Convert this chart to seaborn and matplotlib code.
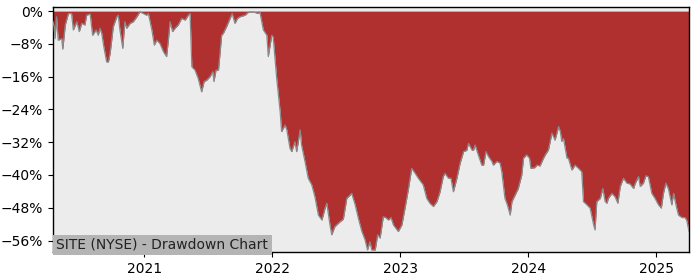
import matplotlib
matplotlib.use("Agg")
import matplotlib.pyplot as plt
import matplotlib.dates as mdates
import matplotlib.ticker as mticker
import pandas as pd
import seaborn as sns

title = "SITE (NYSE) - Drawdown Chart"

dates = [
    "2020-04-16", "2020-04-19", "2020-04-22", "2020-04-26", "2020-05-01", "2020-05-11", "2020-05-14",
    "2020-05-21", "2020-05-30", "2020-06-08", "2020-06-13", "2020-06-23", "2020-06-30", "2020-07-07",
    "2020-07-16", "2020-07-21", "2020-07-31", "2020-08-07", "2020-08-17", "2020-08-23", "2020-08-28",
    "2020-09-02", "2020-09-08", "2020-09-16", "2020-09-21", "2020-09-26", "2020-10-05", "2020-10-15",
    "2020-10-19", "2020-10-24", "2020-11-01", "2020-11-07", "2020-11-12", "2020-11-22", "2020-12-01",
    "2020-12-11", "2020-12-20", "2020-12-30",
    "2021-01-08", "2021-01-13", "2021-01-23", "2021-01-30", "2021-02-06", "2021-02-15", "2021-02-25",
    "2021-03-06", "2021-03-11", "2021-03-16", "2021-03-23", "2021-03-30", "2021-04-08", "2021-04-18",
    "2021-04-28", "2021-05-07", "2021-05-12", "2021-05-17", "2021-05-26", "2021-06-04", "2021-06-14",
    "2021-06-21", "2021-06-28", "2021-07-08", "2021-07-16", "2021-07-19", "2021-07-25", "2021-08-01",
    "2021-08-05", "2021-08-10", "2021-08-15", "2021-08-24", "2021-09-03", "2021-09-09", "2021-09-17",
    "2021-09-24", "2021-10-01", "2021-10-16", "2021-10-25", "2021-11-08", "2021-11-23", "2021-11-27",
    "2021-12-07", "2021-12-17", "2021-12-21", "2021-12-31",
    "2022-01-04", "2022-01-14", "2022-01-24", "2022-01-28", "2022-02-07", "2022-02-12", "2022-02-21",
    "2022-02-26", "2022-03-07", "2022-03-12", "2022-03-22", "2022-03-26", "2022-04-05", "2022-04-14",
    "2022-04-24", "2022-05-03", "2022-05-13", "2022-05-23", "2022-06-01", "2022-06-06", "2022-06-15",
    "2022-06-20", "2022-06-29", "2022-07-14", "2022-07-23", "2022-08-02", "2022-08-16", "2022-08-26",
    "2022-09-04", "2022-09-14", "2022-09-23", "2022-09-30", "2022-10-07", "2022-10-12", "2022-10-22",
    "2022-10-29", "2022-11-05", "2022-11-14", "2022-11-21", "2022-11-29", "2022-12-06", "2022-12-13",
    "2022-12-27",
    "2023-01-06", "2023-01-15", "2023-01-25", "2023-02-03", "2023-02-13", "2023-02-22", "2023-03-08",
    "2023-03-18", "2023-03-27", "2023-04-06", "2023-04-16", "2023-04-25", "2023-05-04", "2023-05-09",
    "2023-05-19", "2023-05-26", "2023-06-02", "2023-06-12", "2023-06-21", "2023-07-01", "2023-07-10",
    "2023-07-15", "2023-07-25", "2023-07-29", "2023-08-03", "2023-08-12", "2023-08-22", "2023-08-27",
    "2023-09-03", "2023-09-10", "2023-09-20", "2023-09-24", "2023-10-04", "2023-10-13", "2023-10-18",
    "2023-10-27", "2023-11-03", "2023-11-11", "2023-11-16", "2023-11-25", "2023-12-04", "2023-12-14",
    "2023-12-19", "2023-12-28",
    "2024-01-05", "2024-01-09", "2024-01-21", "2024-01-26", "2024-02-04", "2024-02-14", "2024-02-19",
    "2024-02-28", "2024-03-09", "2024-03-18", "2024-03-28", "2024-04-02", "2024-04-06", "2024-04-11",
    "2024-04-21", "2024-04-25", "2024-05-05", "2024-05-14", "2024-05-24", "2024-06-02", "2024-06-07",
    "2024-06-17", "2024-06-26", "2024-07-06", "2024-07-10", "2024-07-15", "2024-07-25", "2024-08-01",
    "2024-08-08", "2024-08-13", "2024-08-17", "2024-08-27", "2024-09-05", "2024-09-13", "2024-09-20",
    "2024-09-29", "2024-10-09", "2024-10-18", "2024-10-28", "2024-11-01", "2024-11-11", "2024-11-16",
    "2024-11-25", "2024-12-02", "2024-12-09", "2024-12-19", "2024-12-28",
    "2025-01-07", "2025-01-15", "2025-01-21", "2025-01-28", "2025-02-04", "2025-02-14", "2025-02-19",
    "2025-02-28", "2025-03-05", "2025-03-15", "2025-03-24", "2025-03-29", "2025-04-04",
]

drawdown_pct = [
    -2.5, -3.8, -6.7, -1.4, -7.1, -6.7, -9.3,
    -3.4, -0.6, -0.6, -4.6, -2.6, -5.0, -3.0,
    -3.4, -1.0, -0.7, -5.9, -4.6, -5.9, -4.2,
    -5.4, -8.7, -12.4, -12.4, -10.3, -3.8, -1.4,
    -1.0, -4.6, -9.1, -2.6, -4.2, -3.0, -2.6,
    -1.4, -0.2, -0.6,
    -1.0, -0.6, -4.6, -8.3, -7.1, -7.9, -9.9,
    -11.1, -7.1, -2.6, -5.0, -4.2, -3.4, -1.8,
    -2.2, -1.0, -0.6, -13.6, -14.4, -16.4, -19.7,
    -17.2, -16.9, -16.0, -14.8, -17.2, -14.4, -14.4,
    -10.7, -5.9, -5.4, -3.8, -1.8, -0.6, -3.0,
    -1.8, -1.4, -1.0, -0.3, -0.2, -0.6, -0.2,
    -4.6, -5.9, -11.1, -5.9,
    -6.3, -16.4, -24.6, -29.4, -27.8, -29.0, -33.5,
    -34.3, -31.9, -34.3, -29.0, -32.7, -36.8, -40.8,
    -42.4, -45.3, -49.8, -51.0, -48.1, -46.9, -52.2,
    -54.6, -52.6, -51.4, -50.8, -45.7, -44.5, -47.3,
    -50.6, -53.8, -55.8, -58.3, -56.3, -58.3, -58.3,
    -54.6, -55.4, -50.2, -50.4, -51.0, -50.4, -52.2,
    -53.8,
    -52.2, -48.1, -43.3, -38.4, -39.6, -40.8, -42.4,
    -45.7, -46.9, -47.7, -46.5, -44.1, -40.4, -39.6,
    -40.8, -40.8, -44.1, -40.8, -37.2, -34.3, -34.0,
    -32.3, -33.9, -34.0, -32.7, -35.1, -37.6, -37.6,
    -34.3, -35.5, -36.7, -37.6, -36.7, -37.1, -39.2,
    -45.7, -47.3, -49.8, -46.5, -44.9, -43.3, -40.0,
    -35.9, -35.1,
    -35.9, -38.4, -38.2, -37.6, -37.8, -35.9, -35.1,
    -33.9, -29.8, -31.5, -28.2, -29.4, -31.8, -31.1,
    -35.9, -35.9, -38.8, -37.6, -38.4, -39.2, -46.5,
    -47.3, -48.1, -52.2, -53.4, -46.5, -45.7, -43.3,
    -46.5, -46.9, -45.7, -44.5, -45.3, -46.9, -42.8,
    -40.8, -42.0, -42.2, -43.3, -42.2, -40.4, -42.8,
    -42.0, -40.2, -40.4, -44.5, -45.7,
    -47.3, -48.1, -44.5, -42.0, -43.3, -47.3, -44.5,
    -48.1, -49.8, -50.4, -50.4, -51.2, -53.8,
]

y_ticks = [0, -8, -16, -24, -32, -40, -48, -56]

df = pd.DataFrame({"date": pd.to_datetime(dates), "dd": drawdown_pct})

fig = plt.figure(figsize=(7, 2.8), dpi=100)
ax = fig.add_axes([0.0757, 0.1, 0.9086, 0.875])
ax.set_facecolor("#ececec")

ax.fill_between(df["date"], df["dd"], 0, color="#b03030", linewidth=0, zorder=2)
sns.lineplot(data=df, x="date", y="dd", ax=ax, color="#8a8a8a", linewidth=0.9, zorder=3)

ax.set_xlim(df["date"].iloc[0], df["date"].iloc[-1])
ax.set_ylim(-58.8, 1.0)
ax.set_yticks(y_ticks)
ax.yaxis.set_major_formatter(mticker.PercentFormatter(xmax=100, decimals=0))
ax.xaxis.set_major_locator(mdates.YearLocator())
ax.xaxis.set_major_formatter(mdates.DateFormatter("%Y"))
ax.set_xlabel("")
ax.set_ylabel("")
ax.tick_params(labelsize=10)
for s in ax.spines.values():
    s.set_color("black")
    s.set_linewidth(1.0)

ax.text(0.005, 0.0, title, transform=ax.transAxes, fontsize=10, color="#222222",
        ha="left", va="bottom", zorder=5,
        bbox=dict(facecolor="#b4b4b4", edgecolor="none", pad=2.5))

fig.savefig("out.png", dpi=100)
